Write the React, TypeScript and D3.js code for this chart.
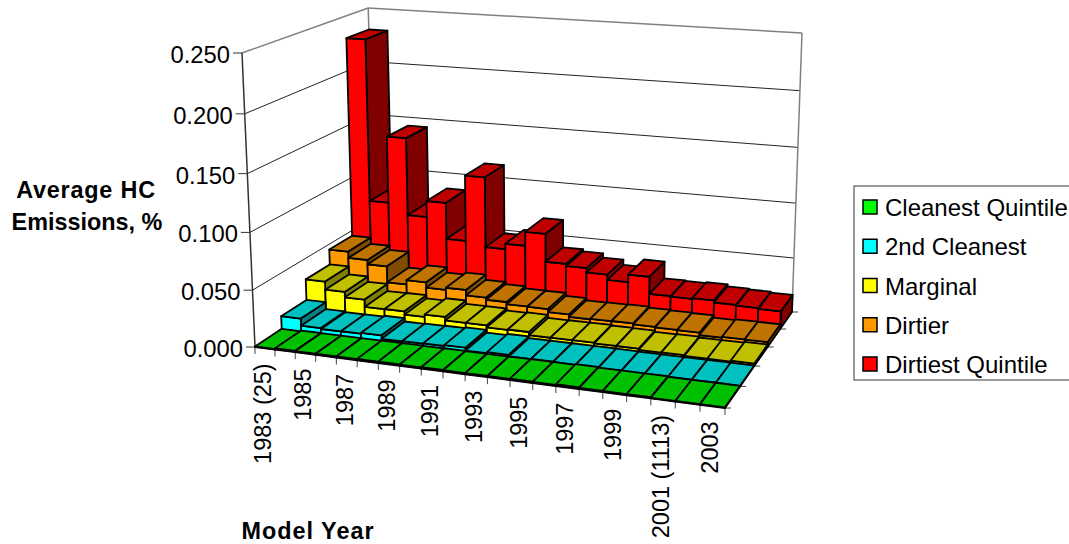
import React from 'react';
import * as d3 from 'd3';

const years = d3.range(1983, 2004).map(String);
const tickLabels: Record<string, string> = {
  '1983': '1983 (25)', '1985': '1985', '1987': '1987', '1989': '1989', '1991': '1991', '1993': '1993',
  '1995': '1995', '1997': '1997', '1999': '1999', '2001': '2001 (1113)', '2003': '2003',
};
const yTicks = [0, 0.05, 0.1, 0.15, 0.2, 0.25];

const cleanest = [.0005, .0012, .001, .001, .001, .0012, .0012, .001, .0012, .001, .001, .001, .0012, .001, .0015, .001, .001, .001, .0005, .0005, .0005];
const second = [.012, .0056, .0048, .005, .0058, .0027, .003, .0032, .004, .0015, .0025, .001, .001, .001, .001, .0008, .0006, .0006, .0006, .0005, .0005];
const marginal = [.031, .0235, .0185, .0118, .012, .009, .0112, .008, .008, .0062, .0065, .0036, .0037, .0038, .0033, .0032, .0021, .0023, .0015, .0015, .0022];
const dirtier = [.045, .039, .035, .02, .024, .019, .021, .016, .014, .012, .0118, .009, .0068, .0072, .0074, .0065, .0061, .0058, .0037, .0044, .0043];
const dirtiest = [.23, .08, .142, .07, .085, .051, .112, .047, .052, .065, .039, .037, .033, .028, .035, .0192, .0187, .0195, .0176, .0168, .016];

const seriesNames = ['Cleanest Quintile', '2nd Cleanest', 'Marginal', 'Dirtier', 'Dirtiest Quintile'];
const seriesValues = [cleanest, second, marginal, dirtier, dirtiest];
const frontColors = ['#00ff00', '#00ffff', '#ffff00', '#ff9900', '#ff0000'];
const topColors = ['#00c000', '#00c0c0', '#c0c000', '#bf7300', '#c00000'];
const sideColors = ['#008000', '#008080', '#808000', '#804d00', '#800000'];

// where the plot box sits on the page
const floor = { fl: [255, 347], fr: [725, 408], br: [792, 312], bl: [375, 268] };
const topFL = [242, 53];
const topBR = [802, 33];
const topBL = [367, 8];

const makeProjector = () => {
  const { fl, fr, br, bl } = floor;
  const dx1 = fr[0] - br[0], dx2 = bl[0] - br[0], sx = fl[0] - fr[0] + br[0] - bl[0];
  const dy1 = fr[1] - br[1], dy2 = bl[1] - br[1], sy = fl[1] - fr[1] + br[1] - bl[1];
  const den = dx1 * dy2 - dx2 * dy1;
  const g = (sx * dy2 - dx2 * sy) / den;
  const h = (dx1 * sy - sx * dy1) / den;
  const a = fr[0] - fl[0] + g * fr[0], b = bl[0] - fl[0] + h * bl[0];
  const d = fr[1] - fl[1] + g * fr[1], e = bl[1] - fl[1] + h * bl[1];
  const wBR = g + h + 1, wBL = h + 1;
  // height direction: x of two corners gives the taper, y is pinned per corner
  const cw = (fl[0] - topFL[0] + (topBR[0] - br[0]) * wBR) / (topFL[0] - topBR[0]);
  const cx = topFL[0] * (1 + cw) - fl[0];
  const cy0 = topFL[1] * (1 + cw) - fl[1];
  const cyBL = topBL[1] * (wBL + cw) - bl[1] * wBL;
  const cyBR = topBR[1] * (wBR + cw) - br[1] * wBR;
  return (u: number, v: number, z: number): [number, number] => {
    const w = g * u + h * v + 1 + cw * z;
    const cy = cy0 + (cyBL - cy0) * v + (cyBR - cyBL) * u;
    return [(a * u + b * v + fl[0] + cx * z) / w, (d * u + e * v + fl[1] + cy * z) / w];
  };
};
const project = makeProjector();

const uScale = d3.scaleBand<string>().domain(years).range([0, 1]);
const vScale = d3.scaleBand<string>().domain(seriesNames).range([0, 1]);
const zScale = d3.scaleLinear().domain([0, 0.25]).range([0, 1]);
const path = (pts: [number, number][]) => d3.line()(pts) + 'Z';

const font = '"Liberation Sans", Arial, sans-serif';

export default function App() {
  const uStep = uScale.bandwidth();
  const vStep = vScale.bandwidth();
  const wallZero = yTicks.map(t => zScale(t));
  const rows = seriesNames.map((_, i) => i).reverse();

  return (
    <svg width={1069} height={544} style={{ position: 'absolute', left: 0, top: 0, display: 'block' }} fontFamily={font}>
      {/* walls */}
      {wallZero.map((z, i) => {
        const a = project(0, 0, z), b = project(0, 1, z), c = project(1, 1, z);
        const top = i === wallZero.length - 1;
        return (
          <g key={i} fill="none" stroke={top ? '#808080' : '#222'} strokeWidth={top ? 1.5 : 1}>
            <path d={path([a, b]).replace('Z', '')} />
            <path d={path([b, c]).replace('Z', '')} />
          </g>
        );
      })}
      <path d={`M${project(0, 1, 0)}L${project(0, 1, 1)}`} stroke="#808080" strokeWidth={1.5} fill="none" />
      <path d={`M${project(1, 1, 0)}L${project(1, 1, 1)}`} stroke="#808080" strokeWidth={1.5} fill="none" />
      <path d={`M${project(0, 0, 0)}L${project(0, 0, 1)}`} stroke="#333" strokeWidth={1.5} fill="none" />
      <path d={`M${project(0, 0, 0)}L${project(1, 0, 0)}L${project(1, 1, 0)}`} stroke="#444" strokeWidth={1} fill="none" />

      {/* y axis */}
      {yTicks.map(t => {
        const [x, y] = project(0, 0, zScale(t));
        return (
          <g key={t}>
            <line x1={x - 9} x2={x} y1={y} y2={y} stroke="#333" />
            <text x={x - 12} y={y + 10} textAnchor="end" fontSize={23.8} fill="#000">{t.toFixed(3)}</text>
          </g>
        );
      })}

      {/* category ticks */}
      {d3.range(years.length + 1).map(i => {
        const [x, y] = project(i / years.length, 0, 0);
        return <line key={i} x1={x} x2={x} y1={y} y2={y + 7} stroke="#444" />;
      })}
      {/* series ticks */}
      {d3.range(seriesNames.length + 1).map(i => {
        const [x, y] = project(1, i / seriesNames.length, 0);
        return <line key={i} x1={x} x2={x + 6} y1={y} y2={y} stroke="#444" />;
      })}
      {years.filter(yr => tickLabels[yr]).map(yr => {
        const [x, y] = project((uScale(yr) as number) + uStep / 2, 0, 0);
        return (
          <text key={yr} transform={`translate(${x + 6},${y + 15}) rotate(-90)`} textAnchor="end" fontSize={23.5} fill="#000">
            {tickLabels[yr]}
          </text>
        );
      })}

      {/* bars, back row first and left to right */}
      {rows.map(s => (
        <g key={s} stroke="#000" strokeWidth={1.8} strokeLinejoin="round">
          {years.map((yr, i) => {
            const u0 = uScale(yr) as number, u1 = u0 + uStep;
            const v0 = vScale(seriesNames[s]) as number, v1 = v0 + vStep;
            const z = zScale(seriesValues[s][i]);
            return (
              <g key={yr}>
                <path fill={sideColors[s]} d={path([project(u1, v0, 0), project(u1, v1, 0), project(u1, v1, z), project(u1, v0, z)])} />
                <path fill={frontColors[s]} d={path([project(u0, v0, 0), project(u1, v0, 0), project(u1, v0, z), project(u0, v0, z)])} />
                <path fill={topColors[s]} d={path([project(u0, v0, z), project(u1, v0, z), project(u1, v1, z), project(u0, v1, z)])} />
              </g>
            );
          })}
        </g>
      ))}

      {/* titles */}
      <g fontWeight="bold" fontSize={23.4} textAnchor="middle" fill="#000">
        <text x={86} y={198} letterSpacing={0.8}>Average HC</text>
        <text x={87} y={230}>Emissions, %</text>
        <text x={308} y={539} letterSpacing={1}>Model Year</text>
      </g>

      {/* legend */}
      <rect x={854} y={186} width={230} height={194} fill="#fff" stroke="#333" />
      {seriesNames.map((name, i) => {
        const y = d3.scaleLinear().domain([0, 4]).range([207, 364])(i);
        return (
          <g key={name}>
            <rect x={863} y={y - 7} width={14} height={14} fill={frontColors[i]} stroke="#000" strokeWidth={1.5} />
            <text x={885} y={y + 9} fontSize={24} fill="#000">{name}</text>
          </g>
        );
      })}
    </svg>
  );
}
